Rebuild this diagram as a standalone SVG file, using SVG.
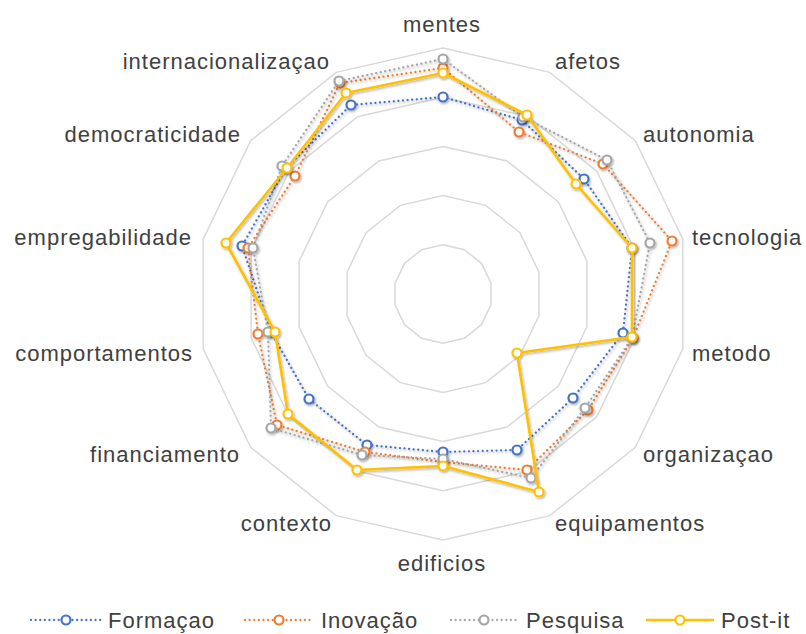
<svg xmlns="http://www.w3.org/2000/svg" width="806" height="634" viewBox="0 0 806 634">
<defs>
<style>
.grid{fill:none;stroke:#d9d9d9;stroke-width:1.5}
.lbl{font-family:"Liberation Sans",Arial,sans-serif;font-size:22px;letter-spacing:1px;fill:#404040}
.dot{fill:none;stroke-width:2.3;stroke-dasharray:0.01 4.6;stroke-linecap:round;stroke-linejoin:round}
.solid{fill:none;stroke-width:2.6;stroke-linejoin:round}
.mk{fill:#fff;stroke-width:2.2}
.f{stroke:#4472c4}.i{stroke:#ed7d31}.p{stroke:#a5a5a5}.y{stroke:#ffc000}
</style>
<filter id="sh" x="-10%" y="-10%" width="120%" height="120%">
<feDropShadow dx="1.2" dy="1.6" stdDeviation="1" flood-color="#000" flood-opacity="0.3"/>
</filter>
</defs>
<rect width="806" height="634" fill="#fff"/>
<g id="grid">
<polygon class="grid" points="443,244.8 464.35,249.67 481.47,263.32 490.97,283.05 490.97,304.95 481.47,324.68 464.35,338.33 443,343.2 421.65,338.33 404.53,324.68 395.03,304.95 395.03,283.05 404.53,263.32 421.65,249.67"/>
<polygon class="grid" points="443,195.6 485.69,205.34 519.93,232.65 538.93,272.1 538.93,315.9 519.93,355.35 485.69,382.66 443,392.4 400.31,382.66 366.07,355.35 347.07,315.9 347.07,272.1 366.07,232.65 400.31,205.34"/>
<polygon class="grid" points="443,146.4 507.04,161.02 558.4,201.97 586.9,261.16 586.9,326.84 558.4,386.03 507.04,426.98 443,441.6 378.96,426.98 327.6,386.03 299.1,326.84 299.1,261.16 327.6,201.97 378.96,161.02"/>
<polygon class="grid" points="443,97.2 528.39,116.69 596.86,171.3 634.87,250.21 634.87,337.79 596.86,416.7 528.39,471.31 443,490.8 357.61,471.31 289.14,416.7 251.13,337.79 251.13,250.21 289.14,171.3 357.61,116.69"/>
<polygon class="grid" points="443,48 549.73,72.36 635.33,140.62 682.83,239.26 682.83,348.74 635.33,447.38 549.73,515.64 443,540 336.27,515.64 250.67,447.38 203.17,348.74 203.17,239.26 250.67,140.62 336.27,72.36"/>
</g>
<g id="axis-labels" class="lbl">
<text x="442" y="32" text-anchor="middle">mentes</text>
<text x="555" y="69">afetos</text>
<text x="643" y="142">autonomia</text>
<text x="692" y="245">tecnologia</text>
<text x="692" y="361">metodo</text>
<text x="643" y="462">organizaçao</text>
<text x="555" y="531">equipamentos</text>
<text x="442" y="571" text-anchor="middle">edificios</text>
<text x="332" y="531" text-anchor="end">contexto</text>
<text x="240" y="462" text-anchor="end">financiamento</text>
<text x="193" y="361" text-anchor="end">comportamentos</text>
<text x="192" y="245" text-anchor="end">empregabilidade</text>
<text x="241" y="142" text-anchor="end">democraticidade</text>
<text x="330" y="69" text-anchor="end">internacionalizaçao</text>
</g>
<g id="connectors">
<g id="series-formacao" filter="url(#sh)">
<polygon class="dot f" points="443,97 522,120 584,179 632,248 623,333 573,398 517,450 443,452 367,445 309,399 271,332 242,246 286,168 351,105"/>
<g class="mk f">
<circle cx="443" cy="97" r="4.5"/><circle cx="522" cy="120" r="4.5"/><circle cx="584" cy="179" r="4.5"/><circle cx="632" cy="248" r="4.5"/><circle cx="623" cy="333" r="4.5"/><circle cx="573" cy="398" r="4.5"/><circle cx="517" cy="450" r="4.5"/><circle cx="443" cy="452" r="4.5"/><circle cx="367" cy="445" r="4.5"/><circle cx="309" cy="399" r="4.5"/><circle cx="271" cy="332" r="4.5"/><circle cx="242" cy="246" r="4.5"/><circle cx="286" cy="168" r="4.5"/><circle cx="351" cy="105" r="4.5"/>
</g>
</g>
<g id="series-inovacao" filter="url(#sh)">
<polygon class="dot i" points="443,68 519,132 603,164 672,241 633,338 588,410 527,470 443,462 365,452 277,425 258,334 248,248 295,176 340,83"/>
<g class="mk i">
<circle cx="443" cy="68" r="4.5"/><circle cx="519" cy="132" r="4.5"/><circle cx="603" cy="164" r="4.5"/><circle cx="672" cy="241" r="4.5"/><circle cx="633" cy="338" r="4.5"/><circle cx="588" cy="410" r="4.5"/><circle cx="527" cy="470" r="4.5"/><circle cx="443" cy="462" r="4.5"/><circle cx="365" cy="452" r="4.5"/><circle cx="277" cy="425" r="4.5"/><circle cx="258" cy="334" r="4.5"/><circle cx="248" cy="248" r="4.5"/><circle cx="295" cy="176" r="4.5"/><circle cx="340" cy="83" r="4.5"/>
</g>
</g>
<g id="series-pesquisa" filter="url(#sh)">
<polygon class="dot p" points="443,59 523,117 607,160 650,243 632,338 585,408 531,478 443,459 362,455 271,428 268,332 253,248 282,166 339,81"/>
<g class="mk p">
<circle cx="443" cy="59" r="4.5"/><circle cx="523" cy="117" r="4.5"/><circle cx="607" cy="160" r="4.5"/><circle cx="650" cy="243" r="4.5"/><circle cx="632" cy="338" r="4.5"/><circle cx="585" cy="408" r="4.5"/><circle cx="531" cy="478" r="4.5"/><circle cx="443" cy="459" r="4.5"/><circle cx="362" cy="455" r="4.5"/><circle cx="271" cy="428" r="4.5"/><circle cx="268" cy="332" r="4.5"/><circle cx="253" cy="248" r="4.5"/><circle cx="282" cy="166" r="4.5"/><circle cx="339" cy="81" r="4.5"/>
</g>
</g>
<g id="series-postit" filter="url(#sh)">
<polygon class="solid y" points="443,73 527,115 576,184 632,248 632,337 517,353 539,492 443,466 357,470 288,414 275,332 226,243 287,168 346,93"/>
<g class="mk y">
<circle cx="443" cy="73" r="4.5"/><circle cx="527" cy="115" r="4.5"/><circle cx="576" cy="184" r="4.5"/><circle cx="632" cy="248" r="4.5"/><circle cx="632" cy="337" r="4.5"/><circle cx="517" cy="353" r="4.5"/><circle cx="539" cy="492" r="4.5"/><circle cx="443" cy="466" r="4.5"/><circle cx="357" cy="470" r="4.5"/><circle cx="288" cy="414" r="4.5"/><circle cx="275" cy="332" r="4.5"/><circle cx="226" cy="243" r="4.5"/><circle cx="287" cy="168" r="4.5"/><circle cx="346" cy="93" r="4.5"/>
</g>
</g>
</g>
<g id="legend">
<g id="legend-formacao">
<line class="dot f" x1="31" y1="620" x2="101" y2="620"/>
<circle class="mk f" cx="66" cy="620" r="4.5"/>
<text class="lbl" x="108" y="628">Formaçao</text>
</g>
<g id="legend-inovacao">
<line class="dot i" x1="245" y1="620" x2="314" y2="620"/>
<circle class="mk i" cx="279" cy="620" r="4.5"/>
<text class="lbl" x="321" y="628">Inovação</text>
</g>
<g id="legend-pesquisa">
<line class="dot p" x1="451" y1="620" x2="518" y2="620"/>
<circle class="mk p" cx="484" cy="620" r="4.5"/>
<text class="lbl" x="526" y="628">Pesquisa</text>
</g>
<g id="legend-postit">
<line class="solid y" x1="646" y1="620" x2="714" y2="620"/>
<circle class="mk y" cx="680" cy="620" r="4.5"/>
<text class="lbl" x="721" y="628">Post-it</text>
</g>
</g>
</svg>
